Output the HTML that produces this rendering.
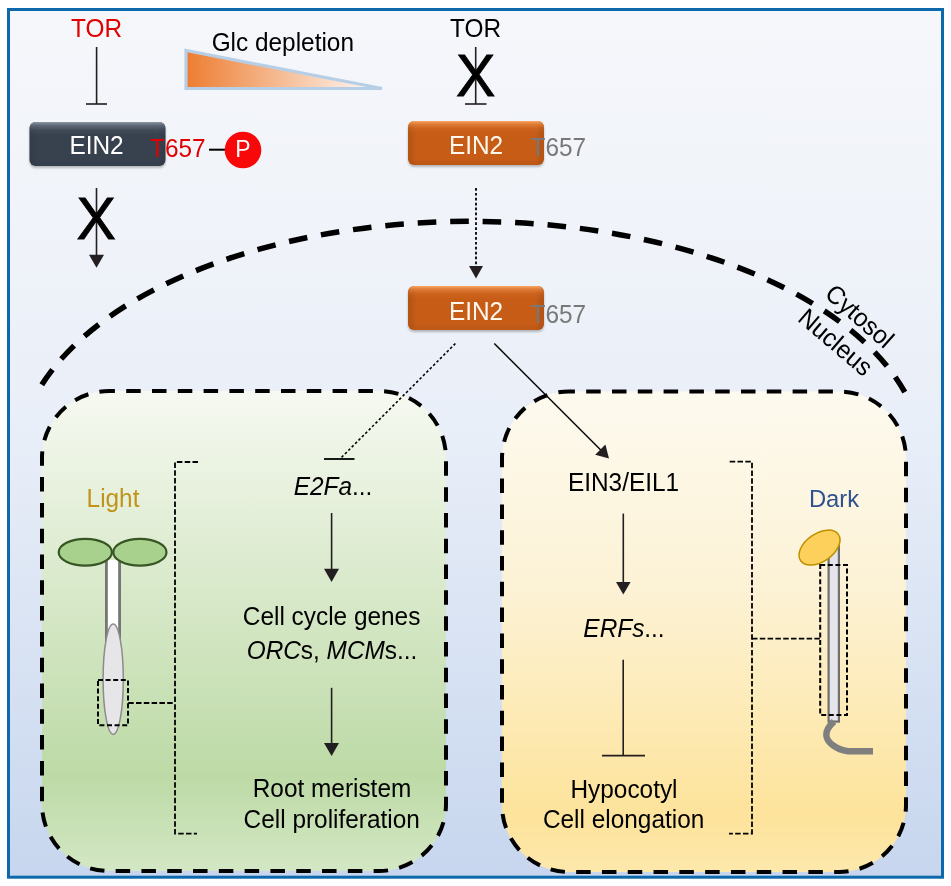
<!DOCTYPE html>
<html><head><meta charset="utf-8">
<style>
html,body{margin:0;padding:0;background:#fff;width:951px;height:886px;overflow:hidden}
svg{display:block;will-change:transform}
text{font-family:"Liberation Sans",sans-serif;font-size:24.4px}
</style></head>
<body>
<svg width="951" height="886" viewBox="0 0 951 886">
<defs>
  <linearGradient id="bg" x1="0" y1="0" x2="0" y2="1">
    <stop offset="0" stop-color="#f5f7fb"/>
    <stop offset="0.25" stop-color="#f0f3f9"/>
    <stop offset="0.5" stop-color="#e8eef8"/>
    <stop offset="1" stop-color="#c7d6ee"/>
  </linearGradient>
  <linearGradient id="tri" x1="0" y1="0" x2="1" y2="0">
    <stop offset="0" stop-color="#ed7d31"/>
    <stop offset="1" stop-color="#ffffff"/>
  </linearGradient>
  <linearGradient id="green" x1="0" y1="0" x2="0" y2="1">
    <stop offset="0" stop-color="#f6f9f1"/>
    <stop offset="0.8" stop-color="#bddaa6"/>
    <stop offset="1" stop-color="#d3e7c4"/>
  </linearGradient>
  <linearGradient id="yellow" x1="0" y1="0" x2="0" y2="1">
    <stop offset="0" stop-color="#fdfaef"/>
    <stop offset="0.4" stop-color="#fcf2d6"/>
    <stop offset="0.65" stop-color="#fdebb8"/>
    <stop offset="0.88" stop-color="#fde39b"/>
    <stop offset="1" stop-color="#fde8ac"/>
  </linearGradient>
  <linearGradient id="orgTop" x1="0" y1="0" x2="0" y2="1">
    <stop offset="0" stop-color="#f59548"/>
    <stop offset="0.25" stop-color="#d06622"/>
    <stop offset="1" stop-color="#c45812"/>
  </linearGradient>
  <linearGradient id="darkTop" x1="0" y1="0" x2="0" y2="1">
    <stop offset="0" stop-color="#6a7585"/>
    <stop offset="0.25" stop-color="#3e4858"/>
    <stop offset="1" stop-color="#343e4e"/>
  </linearGradient>
  <linearGradient id="bevTop" x1="0" y1="0" x2="0" y2="1">
    <stop offset="0" stop-color="#ffb070" stop-opacity="0.9"/>
    <stop offset="0.07" stop-color="#f59a55" stop-opacity="0.55"/>
    <stop offset="0.18" stop-color="#f08a45" stop-opacity="0.15"/>
    <stop offset="0.3" stop-color="#f08a45" stop-opacity="0"/>
    <stop offset="0.85" stop-color="#000" stop-opacity="0"/>
    <stop offset="1" stop-color="#000" stop-opacity="0.05"/>
  </linearGradient>
  <linearGradient id="bevTopD" x1="0" y1="0" x2="0" y2="1">
    <stop offset="0" stop-color="#9aa3b0" stop-opacity="0.9"/>
    <stop offset="0.07" stop-color="#8a94a2" stop-opacity="0.5"/>
    <stop offset="0.18" stop-color="#8a94a2" stop-opacity="0.12"/>
    <stop offset="0.3" stop-color="#8a94a2" stop-opacity="0"/>
    <stop offset="0.85" stop-color="#000" stop-opacity="0"/>
    <stop offset="1" stop-color="#000" stop-opacity="0.05"/>
  </linearGradient>
  <linearGradient id="bevSide" x1="0" y1="0" x2="1" y2="0">
    <stop offset="0" stop-color="#000" stop-opacity="0.10"/>
    <stop offset="0.035" stop-color="#000" stop-opacity="0.05"/>
    <stop offset="0.06" stop-color="#000" stop-opacity="0"/>
    <stop offset="0.94" stop-color="#000" stop-opacity="0"/>
    <stop offset="0.965" stop-color="#000" stop-opacity="0.05"/>
    <stop offset="1" stop-color="#000" stop-opacity="0.10"/>
  </linearGradient>
  <filter id="sh" x="-10%" y="-10%" width="120%" height="140%">
    <feGaussianBlur in="SourceAlpha" stdDeviation="1.2"/>
    <feOffset dy="1.5" result="b"/>
    <feComponentTransfer><feFuncA type="linear" slope="0.25"/></feComponentTransfer>
    <feMerge><feMergeNode/><feMergeNode in="SourceGraphic"/></feMerge>
  </filter>
</defs>

<!-- frame -->
<rect x="8.5" y="9.5" width="934" height="867.7" fill="url(#bg)" stroke="#0d68ac" stroke-width="3"/>

<!-- top left TOR -->
<text transform="translate(96.5,37.1) scale(1,1.045)" text-anchor="middle" fill="#e00000">TOR</text>
<line x1="96.6" y1="47" x2="96.6" y2="104" stroke="#231f20" stroke-width="1.6"/>
<line x1="86" y1="104" x2="107" y2="104" stroke="#231f20" stroke-width="1.6"/>

<!-- Glc depletion -->
<text transform="translate(282.8,51.3) scale(1,1.045)" text-anchor="middle" fill="#000">Glc depletion</text>
<polygon points="186,50.5 186,88.5 382,88.5" fill="url(#tri)" stroke="#b6cfe6" stroke-width="3.2"/>

<!-- top middle TOR -->
<text transform="translate(475.5,37.1) scale(1,1.045)" text-anchor="middle" fill="#000">TOR</text>
<line x1="475.7" y1="47" x2="475.7" y2="104" stroke="#231f20" stroke-width="1.6"/>
<line x1="465" y1="104" x2="486.5" y2="104" stroke="#231f20" stroke-width="1.6"/>
<text transform="translate(475.7,95.5) scale(1,1.015)" text-anchor="middle" fill="#000" stroke="#000" stroke-width="0.9" style="font-size:59px">X</text>

<!-- dark EIN2 -->
<g filter="url(#sh)">
<rect x="29.5" y="122" width="136" height="44" rx="6" fill="#39434f"/>
</g>
<rect x="29.5" y="122" width="136" height="44" rx="6" fill="url(#bevSide)"/>
<rect x="29.5" y="122" width="136" height="44" rx="6" fill="url(#bevTopD)"/>
<text transform="translate(96.5,154.3) scale(1,1.045)" text-anchor="middle" fill="#fff">EIN2</text>
<text transform="translate(150,157.3) scale(1,1.045)" fill="#e00000">T657</text>
<line x1="209" y1="149.7" x2="225" y2="149.7" stroke="#000" stroke-width="2"/>
<circle cx="243" cy="150" r="18.3" fill="#f80808"/>
<text transform="translate(243,156.9) scale(1,1.045)" text-anchor="middle" fill="#fff" style="font-size:23px">P</text>

<!-- blocked arrow -->
<line x1="96.5" y1="188" x2="96.5" y2="256" stroke="#231f20" stroke-width="1.6"/>
<polygon points="89,254.7 104,254.7 96.5,267.8" fill="#231f20"/>
<text transform="translate(96.3,239.3) scale(1,1.015)" text-anchor="middle" fill="#000" stroke="#000" stroke-width="0.9" style="font-size:59px">X</text>

<!-- orange EIN2 1 -->
<g filter="url(#sh)">
<rect x="408" y="121" width="136" height="44" rx="6" fill="#c65b16"/>
</g>
<rect x="408" y="121" width="136" height="44" rx="6" fill="url(#bevSide)"/>
<rect x="408" y="121" width="136" height="44" rx="6" fill="url(#bevTop)"/>
<text transform="translate(476,154.0) scale(1,1.045)" text-anchor="middle" fill="#fff8ee">EIN2</text>
<text transform="translate(530.5,156.1) scale(1,1.045)" fill="#787878">T657</text>

<!-- dotted arrow -->
<line x1="476" y1="188" x2="476" y2="266" stroke="#000" stroke-width="1.8" stroke-dasharray="2.7 2.2"/>
<polygon points="469,266 483,266 476,278.4" fill="#231f20"/>

<!-- cytosol arc -->
<path d="M 41.8 384.8 A 452.4 238.7 0 0 1 904.8 392.1" fill="none" stroke="#000" stroke-width="5.5" stroke-dasharray="18.6 13.9"/>

<!-- orange EIN2 2 -->
<g filter="url(#sh)">
<rect x="408" y="286" width="136" height="44" rx="6" fill="#c65b16"/>
</g>
<rect x="408" y="286" width="136" height="44" rx="6" fill="url(#bevSide)"/>
<rect x="408" y="286" width="136" height="44" rx="6" fill="url(#bevTop)"/>
<text transform="translate(476,319.7) scale(1,1.045)" text-anchor="middle" fill="#fff8ee">EIN2</text>
<text transform="translate(530.5,322.9) scale(1,1.045)" fill="#787878">T657</text>

<!-- Cytosol / Nucleus -->
<text transform="translate(823.5,295.8) rotate(41.5) scale(1,1.045)" fill="#000">Cytosol</text>
<text transform="translate(796.6,320.2) rotate(40.5) scale(1,1.045)" fill="#000">Nucleus</text>

<!-- panels -->
<rect x="42" y="391" width="404" height="480" rx="67" fill="url(#green)" stroke="#000" stroke-width="4" stroke-dasharray="14.5 11.3" stroke-dashoffset="8.6"/>
<rect x="502" y="391.5" width="404" height="480.5" rx="67" fill="url(#yellow)" stroke="#000" stroke-width="4" stroke-dasharray="14.5 11.3" stroke-dashoffset="8.6"/>

<!-- lines from EIN2 2 -->
<line x1="455.4" y1="343.5" x2="341" y2="457.9" stroke="#000" stroke-width="1.6" stroke-dasharray="2.6 2.2"/>
<line x1="324" y1="459" x2="354.5" y2="459" stroke="#000" stroke-width="1.8"/>
<line x1="494.3" y1="343.5" x2="602.5" y2="451.7" stroke="#000" stroke-width="1.5"/>
<polygon points="609,458.6 595.2,454.7 605.4,444.4" fill="#231f20"/>

<!-- green panel contents -->
<text transform="translate(113,507) scale(1,1.045)" text-anchor="middle" fill="#c19419">Light</text>
<text transform="translate(333,495.3) scale(1,1.045)" text-anchor="middle" fill="#000" ><tspan font-style="italic">E2Fa</tspan>...</text>
<line x1="331.6" y1="513" x2="331.6" y2="570" stroke="#231f20" stroke-width="1.6"/>
<polygon points="324,568.8 339,568.8 331.6,582" fill="#231f20"/>
<text transform="translate(331.6,624.8) scale(1,1.045)" text-anchor="middle" fill="#000">Cell cycle genes</text>
<text transform="translate(332,659.0) scale(1,1.045)" text-anchor="middle" fill="#000"><tspan font-style="italic">ORC</tspan>s, <tspan font-style="italic">MCM</tspan>s...</text>
<line x1="331.6" y1="687.8" x2="331.6" y2="744" stroke="#231f20" stroke-width="1.6"/>
<polygon points="324,743 339,743 331.6,756" fill="#231f20"/>
<text transform="translate(332,796.5) scale(1,1.045)" text-anchor="middle" fill="#000">Root meristem</text>
<text transform="translate(331.7,828.0) scale(1,1.045)" text-anchor="middle" fill="#000">Cell proliferation</text>

<!-- light seedling -->
<rect x="107.5" y="560" width="11" height="80" fill="#fff"/>
<line x1="106.4" y1="560" x2="106.4" y2="660" stroke="#767676" stroke-width="2.8"/>
<line x1="119.6" y1="560" x2="119.6" y2="660" stroke="#767676" stroke-width="2.8"/>
<ellipse cx="113.2" cy="679.2" rx="10.1" ry="55.2" fill="#e6e6e8" stroke="#8c8c8c" stroke-width="1.5"/>
<ellipse cx="85.3" cy="552.3" rx="26.6" ry="13.4" fill="#a9d18e" stroke="#375623" stroke-width="2.2"/>
<ellipse cx="139.9" cy="552.3" rx="26.6" ry="13.4" fill="#a9d18e" stroke="#375623" stroke-width="2.2"/>
<rect x="98" y="680" width="30" height="45.2" fill="none" stroke="#000" stroke-width="2" stroke-dasharray="5 2.6"/>
<path d="M128.2 703 H175" fill="none" stroke="#000" stroke-width="1.8" stroke-dasharray="5.5 2.3"/>
<path d="M198 462 H175 V833.6 H197" fill="none" stroke="#000" stroke-width="1.8" stroke-dasharray="5.5 2.3"/>

<!-- yellow panel contents -->
<text transform="translate(623.5,490.5) scale(1,1.045)" text-anchor="middle" fill="#000">EIN3/EIL1</text>
<line x1="623.3" y1="513.6" x2="623.3" y2="583" stroke="#231f20" stroke-width="1.6"/>
<polygon points="616,581.9 630.6,581.9 623.3,594.6" fill="#231f20"/>
<text transform="translate(624,637.4) scale(1,1.045)" text-anchor="middle" fill="#000" ><tspan font-style="italic">ERFs</tspan>...</text>
<line x1="623.2" y1="659.8" x2="623.2" y2="755.7" stroke="#231f20" stroke-width="1.6"/>
<line x1="602" y1="755.7" x2="645" y2="755.7" stroke="#231f20" stroke-width="1.8"/>
<text transform="translate(624,798.2) scale(1,1.045)" text-anchor="middle" fill="#000">Hypocotyl</text>
<text transform="translate(623.6,827.7) scale(1,1.045)" text-anchor="middle" fill="#000">Cell elongation</text>
<text transform="translate(834,507.1) scale(1,1.03)" text-anchor="middle" fill="#2e5191" style="font-size:23.8px">Dark</text>
<path d="M729.7 461.6 H752 V833.6 H729" fill="none" stroke="#000" stroke-width="1.8" stroke-dasharray="5.5 2.3"/>
<path d="M752 638.6 H820" fill="none" stroke="#000" stroke-width="1.8" stroke-dasharray="5.5 2.3"/>

<!-- dark seedling -->
<rect x="828.6" y="541" width="10.3" height="180.6" fill="#e5e4ea" stroke="#6f6f6f" stroke-width="2.2"/>
<ellipse cx="819.5" cy="547.6" rx="23" ry="14" transform="rotate(-35 819.5 547.6)" fill="#fcd05a" stroke="#bf9000" stroke-width="1.5"/>
<rect x="820.2" y="565" width="26.8" height="150" fill="none" stroke="#000" stroke-width="2" stroke-dasharray="5 2.6"/>
<path d="M 834 721.5 C 829 726, 826 730, 826.3 735 C 826.5 742, 836 749.5, 848 751.3 L 873 751.3" fill="none" stroke="#7f7f7f" stroke-width="6.5"/>

</svg>
</body></html>
